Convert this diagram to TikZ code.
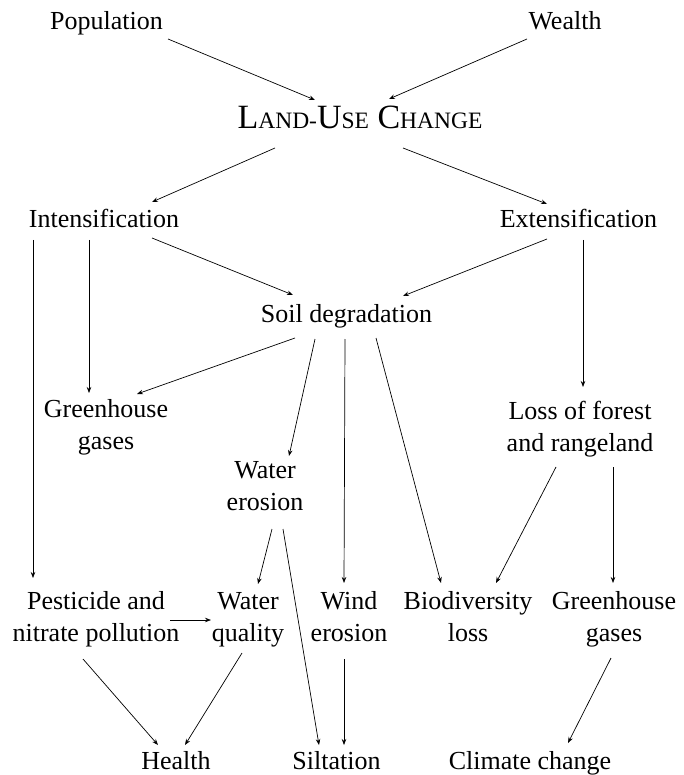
\documentclass[tikz,border=0pt]{standalone}
\usepackage{fontspec}
\setmainfont{Liberation Serif}
\usetikzlibrary{arrows.meta}
\begin{document}
\begin{tikzpicture}[x=1pt,y=-1pt,
  lbl/.style={anchor=base,inner sep=0pt,align=center,font=\fontsize{26pt}{32pt}\selectfont},
  arr/.style={draw,line width=0.7pt,-{Stealth[length=6pt,width=4.5pt]}}]
\fill[white] (0,0) rectangle (683,775);
\useasboundingbox (0,0) rectangle (683,775);
% nodes
\node[lbl] (pop) at (106.5,30) {Population};
\node[lbl] (wealth) at (565,30) {Wealth};
\node[lbl] (luc) at (360,129) {{\fontsize{34pt}{34pt}\selectfont L}{\fontsize{23.5pt}{24pt}\selectfont AND-}{\fontsize{34pt}{34pt}\selectfont U}{\fontsize{23.5pt}{24pt}\selectfont SE}{\fontsize{34pt}{34pt}\selectfont\ C}{\fontsize{23.5pt}{24pt}\selectfont HANGE}};
\node[lbl] (int) at (104,228) {Intensification};
\node[lbl] (ext) at (578.5,228) {Extensification};
\node[lbl] (soil) at (346.5,322) {Soil degradation};
\node[lbl] (ghl) at (106,449) {Greenhouse\\gases};
\node[lbl] (we) at (265,510) {Water\\erosion};
\node[lbl] (loss) at (580,451) {Loss of forest\\and rangeland};
\node[lbl] (pest) at (96,641) {Pesticide and\\nitrate pollution};
\node[lbl] (wq) at (248,641) {Water\\quality};
\node[lbl] (wind) at (349,641) {Wind\\erosion};
\node[lbl] (bio) at (468,641) {Biodiversity\\loss};
\node[lbl] (ghr) at (614,641) {Greenhouse\\gases};
\node[lbl] (health) at (176,769) {Health};
\node[lbl] (silt) at (336.5,769) {Siltation};
\node[lbl] (climate) at (530,769) {Climate change};
% connectors
\draw[arr] ([shift={(61.5,9)}]pop.base) -- ([shift={(-45,-29)}]luc.base);
\draw[arr] ([shift={(-38,9)}]wealth.base) -- ([shift={(29,-30)}]luc.base);
\draw[arr] ([shift={(-85,19)}]luc.base) -- ([shift={(48,-26)}]int.base);
\draw[arr] ([shift={(43,19)}]luc.base) -- ([shift={(-31.5,-24)}]ext.base);
\draw[arr] ([shift={(48,10)}]int.base) -- ([shift={(-53.5,-27)}]soil.base);
\draw[arr] ([shift={(-31.5,11)}]ext.base) -- ([shift={(56.5,-26)}]soil.base);
\draw[arr] ([shift={(-71,12)}]int.base) -- ([shift={(-63,-63)}]pest.base);
\draw[arr] ([shift={(-15,12)}]int.base) -- ([shift={(-17,-56)}]ghl.base);
\draw[arr] ([shift={(4.5,12)}]ext.base) -- ([shift={(3,-64)}]loss.base);
\draw[arr] ([shift={(-51.5,16)}]soil.base) -- ([shift={(31,-55)}]ghl.base);
\draw[arr] ([shift={(-31.5,17)}]soil.base) -- ([shift={(24,-54)}]we.base);
\draw[arr] ([shift={(-1.5,17)}]soil.base) -- ([shift={(-5,-58)}]wind.base);
\draw[arr] ([shift={(29.5,16)}]soil.base) -- ([shift={(-27,-58)}]bio.base);
\draw[arr] ([shift={(-24,16)}]loss.base) -- ([shift={(28,-58)}]bio.base);
\draw[arr] ([shift={(33,16)}]loss.base) -- ([shift={(-1,-58)}]ghr.base);
\draw[arr] ([shift={(7,19)}]we.base) -- ([shift={(10,-57)}]wq.base);
\draw[arr] ([shift={(18,19)}]we.base) -- ([shift={(-17.5,-24)}]silt.base);
\draw[arr] ([shift={(74,-21)}]pest.base) -- ([shift={(-37,-21)}]wq.base);
\draw[arr] ([shift={(-13,18)}]pest.base) -- ([shift={(-18,-24)}]health.base);
\draw[arr] ([shift={(-6,12)}]wq.base) -- ([shift={(9,-24)}]health.base);
\draw[arr] ([shift={(-5,18)}]wind.base) -- ([shift={(7.5,-24)}]silt.base);
\draw[arr] ([shift={(-3,17)}]ghr.base) -- ([shift={(38,-26)}]climate.base);
\end{tikzpicture}
\end{document}
